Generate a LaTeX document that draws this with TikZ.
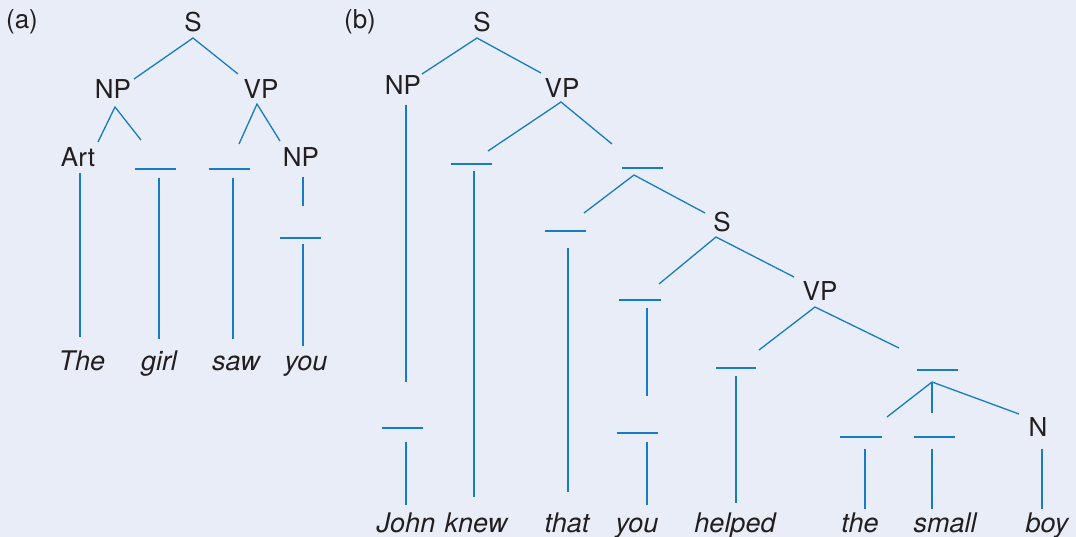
\documentclass[tikz,border=0pt]{standalone}
\usepackage{fontspec}
\setmainfont{TeX Gyre Heros}
\definecolor{bg}{RGB}{232,237,248}
\definecolor{ln}{RGB}{22,124,196}
\definecolor{tx}{RGB}{35,31,32}
\begin{document}
\begin{tikzpicture}[x=1pt,y=-1pt,
  lab/.style={anchor=base, inner sep=0pt, text=tx, font=\fontsize{26}{30}\selectfont},
  word/.style={anchor=base, inner sep=0pt, text=tx, font=\fontsize{27}{30}\selectfont\itshape},
  br/.style={draw=ln, line width=1.3pt}]
\fill[bg] (0,0) rectangle (1076,537);
\useasboundingbox (0,0) rectangle (1076,537);

% ---------- panel (a) ----------
\node[lab] (alab) at (22,29) {(a)};
\node[lab] (aS) at (193,32) {S};
\node[lab] (aNP) at (113,99) {NP};
\node[lab] (aVP) at (261,99) {VP};
\node[lab] (aArt) at (78,167) {Art};
\node[lab] (aNPb) at (301,167) {NP};
\node[word] (wThe) at (82,370) {The};
\node[word] (wgirl) at (159,370) {girl};
\node[word] (wsaw) at (236,370) {saw};
\node[word] (wyou) at (306,370) {you};

\coordinate (aS0) at (193,38);
\coordinate (aS1) at (134,79);
\coordinate (aS2) at (238,74);
\coordinate (aN0) at (115,107);
\coordinate (aN1) at (98,142);
\coordinate (aN2) at (141,140);
\coordinate (aV0) at (257,104);
\coordinate (aV1) at (239,144);
\coordinate (aV2) at (280,141);
\coordinate (ab1l) at (135,169); \coordinate (ab1r) at (176,169);
\coordinate (ab2l) at (209,169); \coordinate (ab2r) at (250,169);
\coordinate (ab3l) at (280,238); \coordinate (ab3r) at (321,238);
\coordinate (aArtT) at (80,173); \coordinate (aArtB) at (80,337);
\coordinate (agT) at (159,178); \coordinate (agB) at (159,339);
\coordinate (asT) at (233,178); \coordinate (asB) at (233,339);
\coordinate (ayT1) at (303,177); \coordinate (ayB1) at (303,206);
\coordinate (ayT2) at (303,244); \coordinate (ayB2) at (303,346);

\draw[br] (aS1) -- (aS0) -- (aS2);
\draw[br] (aN1) -- (aN0) -- (aN2);
\draw[br] (aV1) -- (aV0) -- (aV2);
\draw[br] (ab1l) -- (ab1r);
\draw[br] (ab2l) -- (ab2r);
\draw[br] (ab3l) -- (ab3r);
\draw[br] (aArtT) -- (aArtB);
\draw[br] (agT) -- (agB);
\draw[br] (asT) -- (asB);
\draw[br] (ayT1) -- (ayB1);
\draw[br] (ayT2) -- (ayB2);

% ---------- panel (b) ----------
\node[lab] (blab) at (360,29) {(b)};
\node[lab] (bS) at (482,32) {S};
\node[lab] (bNP) at (403,95) {NP};
\node[lab] (bVP) at (562,98) {VP};
\node[lab] (bS2) at (722,232) {S};
\node[lab] (bVP2) at (820,301) {VP};
\node[lab] (bN) at (1038,436) {N};
\node[word] (wJohn) at (406,532) {John};
\node[word] (wknew) at (476,532) {knew};
\node[word] (wthat) at (567,532) {that};
\node[word] (wyou2) at (637,532) {you};
\node[word] (whelped) at (735,532) {helped};
\node[word] (wthe) at (860,532) {the};
\node[word] (wsmall) at (945,532) {small};
\node[word] (wboy) at (1047,532) {boy};

\coordinate (bS0) at (477,38); \coordinate (bS1) at (422,74); \coordinate (bS2c) at (541,73);
\coordinate (bNPT) at (406,105); \coordinate (bNPB) at (406,382);
\coordinate (bJl) at (382,428); \coordinate (bJr) at (423,428);
\coordinate (bJT) at (406,442); \coordinate (bJB) at (406,505);
\coordinate (bV0) at (561,102); \coordinate (bV1) at (488,151); \coordinate (bV2) at (612,144);
\coordinate (bKl) at (451,164); \coordinate (bKr) at (492,164);
\coordinate (bKT) at (474,171); \coordinate (bKB) at (474,497);
\coordinate (bXl) at (622,168); \coordinate (bXr) at (663,168);
\coordinate (bX0) at (634,175); \coordinate (bX1) at (584,213); \coordinate (bX2) at (705,213);
\coordinate (bTl) at (545,231); \coordinate (bTr) at (586,231);
\coordinate (bTT) at (568,248); \coordinate (bTB) at (568,492);
\coordinate (bS20) at (716,237); \coordinate (bS21) at (659,284); \coordinate (bS22) at (794,277);
\coordinate (bY1l) at (619,300); \coordinate (bY1r) at (661,300);
\coordinate (bY1T) at (647,308); \coordinate (bY1B) at (647,396);
\coordinate (bY2l) at (617,433); \coordinate (bY2r) at (658,433);
\coordinate (bY2T) at (647,442); \coordinate (bY2B) at (647,505);
\coordinate (bW0) at (815,307); \coordinate (bW1) at (759,350); \coordinate (bW2) at (899,348);
\coordinate (bHl) at (716,368); \coordinate (bHr) at (756,368);
\coordinate (bHT) at (736,376); \coordinate (bHB) at (736,503);
\coordinate (bZl) at (917,370); \coordinate (bZr) at (958,370);
\coordinate (bZ0) at (932,382); \coordinate (bZ1) at (887,417); \coordinate (bZ2) at (932,413); \coordinate (bZ3) at (1019,414);
\coordinate (bThl) at (840,437); \coordinate (bThr) at (882,437);
\coordinate (bThT) at (865,449); \coordinate (bThB) at (865,509);
\coordinate (bSml) at (914,437); \coordinate (bSmr) at (955,437);
\coordinate (bSmT) at (932,449); \coordinate (bSmB) at (932,509);
\coordinate (bNT) at (1042,449); \coordinate (bNB) at (1042,509);

\draw[br] (bS1) -- (bS0) -- (bS2c);
\draw[br] (bNPT) -- (bNPB);
\draw[br] (bJl) -- (bJr);
\draw[br] (bJT) -- (bJB);
\draw[br] (bV1) -- (bV0) -- (bV2);
\draw[br] (bKl) -- (bKr);
\draw[br] (bKT) -- (bKB);
\draw[br] (bXl) -- (bXr);
\draw[br] (bX1) -- (bX0) -- (bX2);
\draw[br] (bTl) -- (bTr);
\draw[br] (bTT) -- (bTB);
\draw[br] (bS21) -- (bS20) -- (bS22);
\draw[br] (bY1l) -- (bY1r);
\draw[br] (bY1T) -- (bY1B);
\draw[br] (bY2l) -- (bY2r);
\draw[br] (bY2T) -- (bY2B);
\draw[br] (bW1) -- (bW0) -- (bW2);
\draw[br] (bHl) -- (bHr);
\draw[br] (bHT) -- (bHB);
\draw[br] (bZl) -- (bZr);
\draw[br] (bZ1) -- (bZ0) -- (bZ3);
\draw[br] (bZ0) -- (bZ2);
\draw[br] (bThl) -- (bThr);
\draw[br] (bThT) -- (bThB);
\draw[br] (bSml) -- (bSmr);
\draw[br] (bSmT) -- (bSmB);
\draw[br] (bNT) -- (bNB);
\end{tikzpicture}
\end{document}
